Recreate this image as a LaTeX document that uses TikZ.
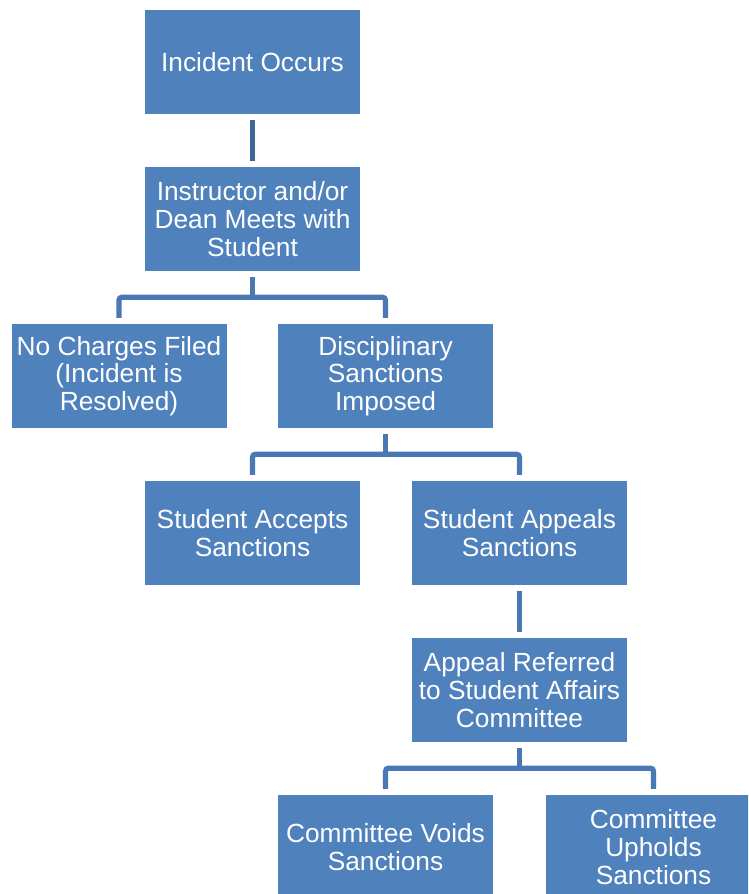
\documentclass[tikz,border=0pt]{standalone}
\usepackage{fontspec}
\setmainfont{Liberation Sans}
\usetikzlibrary{calc}
\definecolor{boxblue}{HTML}{4F81BD}
\definecolor{linedark}{HTML}{3D6796}
\definecolor{linemid}{HTML}{4A78B4}
\tikzset{
  stepbox/.style={rectangle, fill=boxblue, draw=none, minimum width=215pt, minimum height=104pt,
    inner sep=0pt, align=center, text=white, font=\fontsize{26.3}{27.8}\selectfont},
  stem/.style={draw=linedark, line width=5.7pt},
  branch/.style={draw=linemid, line width=5.2pt, rounded corners=3pt},
}
\begin{document}
\begin{tikzpicture}[x=1pt,y=-1pt]
\useasboundingbox (0,0) rectangle (748,894);
\clip (0,0) rectangle (748,894);
\node[stepbox] (A) at (252.5,62) {Incident Occurs};
\node[stepbox] (B) at (252.5,219) {Instructor and/or\\Dean Meets with\\Student};
\node[stepbox] (C) at (119,376) {No Charges Filed\\(Incident is\\Resolved)};
\node[stepbox] (D) at (385.5,376) {Disciplinary\\Sanctions\\Imposed};
\node[stepbox] (E) at (252.5,533) {Student Accepts\\Sanctions};
\node[stepbox] (F) at (519.5,533) {Student Appeals\\Sanctions};
\node[stepbox] (G) at (519.5,690) {Appeal Referred\\to Student Affairs\\Committee};
\node[stepbox] (H) at (385.5,847) {Committee Voids\\Sanctions};
\node[stepbox] (I) at (653.5,847) {Committee\\Upholds\\Sanctions};
% straight connectors
\draw[stem] ([yshift=-6pt]A.south) -- ([yshift=6pt]B.north);
\draw[stem, draw=linemid] ([yshift=-6pt]F.south) -- ([yshift=6pt]G.north);
% branches
\draw[branch] ([yshift=-6pt]B.south) -- ([yshift=-26pt]B.south);
\draw[branch] ([yshift=6pt]C.north) |- ([yshift=-26pt]B.south) -| ([yshift=6pt]D.north);
\draw[branch] ([yshift=-6pt]D.south) -- ([yshift=-26pt]D.south);
\draw[branch] ([yshift=6pt]E.north) |- ([yshift=-26pt]D.south) -| ([yshift=6pt]F.north);
\draw[branch] ([yshift=-6pt]G.south) -- ([yshift=-26pt]G.south);
\draw[branch] ([yshift=6pt]H.north) |- ([yshift=-26pt]G.south) -| ([yshift=6pt]I.north);
\end{tikzpicture}
\end{document}
